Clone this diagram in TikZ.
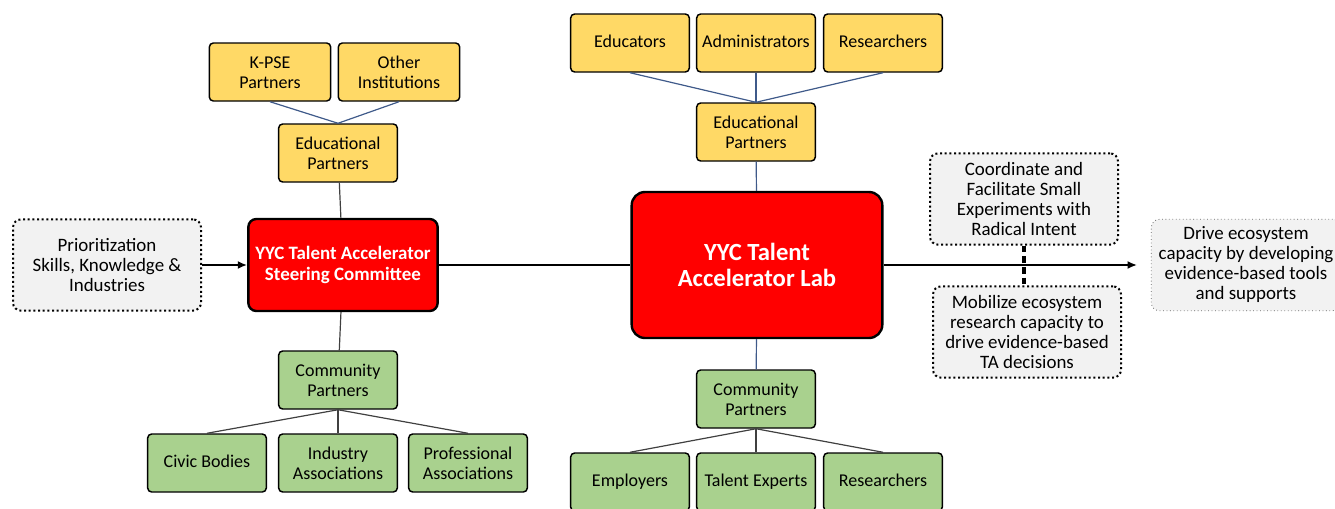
\documentclass[tikz,border=0pt]{standalone}
\usepackage{fontspec}
\setmainfont{Carlito}
\usetikzlibrary{arrows.meta}
\definecolor{eduyellow}{HTML}{FFD966}
\definecolor{comgreen}{HTML}{A9D18E}
\definecolor{notegray}{HTML}{F2F2F2}
\definecolor{linkblue}{HTML}{3F5A8A}
\tikzset{
  smallbox/.style={draw,rounded corners=3pt,line width=1.1pt,align=center,inner sep=1pt,
    minimum width=89pt,minimum height=43.5pt,font=\fontsize{13.5}{15}\selectfont},
  ybox/.style={smallbox,fill=eduyellow},
  gbox/.style={smallbox,fill=comgreen},
  redbox/.style={draw,fill=red,rounded corners=6pt,line width=1.8pt,align=center,text=white,
    minimum width=142pt,minimum height=69pt,font=\bfseries\fontsize{14.2}{15.5}\selectfont},
  notebox/.style={draw,dotted,line width=1.5pt,fill=notegray,rounded corners=6pt,align=center,
    minimum width=141pt,minimum height=68.5pt,inner sep=1pt,font=\fontsize{14.2}{15}\selectfont},
  bluelink/.style={draw=linkblue,line width=0.9pt},
  graylink/.style={draw=black!75,line width=0.9pt},
  mainline/.style={draw,line width=1.5pt}
}
\begin{document}
\begin{tikzpicture}[x=0.75pt,y=-0.75pt]
    \useasboundingbox (0,0) rectangle (1335,508);
    % steering committee side
    \node[redbox] (steer) at (343,265) {YYC Talent Accelerator\\Steering Committee};
    \node[notebox] (prio) at (107,265) {Prioritization\\Skills, Knowledge \&\\Industries};
    \node[ybox] (eduL) at (338,153) {Educational\\Partners};
    \foreach \n/\x/\t in {kpse/270/{K-PSE\\Partners},other/399/{Other\\Institutions}}{
      \node[ybox,minimum width=91pt] (\n) at (\x,72) {\strut\t};
      \draw[bluelink] (\n.south) -- (eduL.north);
    }
    \node[gbox] (comL) at (338,380) {Community\\Partners};
    \foreach \n/\x/\t in {civic/207/{Civic Bodies},indus/338/{Industry\\Associations},prof/468/{Professional\\Associations}}{
      \node[gbox] (\n) at (\x,463) {\strut\t};
      \draw[graylink] (comL.south) -- (\n.north);
    }
    \draw[graylink] (eduL) -- (steer);
    \draw[graylink] (steer) -- (comL);
    \draw[line width=1.5pt,-{Latex[length=7pt,width=6pt]}] (prio) -- (steer);
    % lab side
    \node[redbox,minimum width=188pt,minimum height=109.5pt,rounded corners=10pt,
      font=\bfseries\fontsize{18.5}{19.5}\selectfont] (lab) at (757,265) {YYC Talent\\Accelerator Lab};
    \node[ybox] (eduR) at (756,132) {Educational\\Partners};
    \foreach \n/\x/\t in {educ/630/Educators,admin/756/Administrators,resT/883/Researchers}{
      \node[ybox] (\n) at (\x,43) {\strut\t};
      \draw[bluelink] (\n.south) -- (eduR.north);
    }
    \node[gbox] (comR) at (756,399) {Community\\Partners};
    \foreach \n/\x/\t in {empl/630/Employers,talent/756/{Talent Experts},resB/883/Researchers}{
      \node[gbox] (\n) at (\x,482) {\strut\t};
      \draw[graylink] (comR.south) -- (\n.north);
    }
    \draw[bluelink] (eduR) -- (lab);
    \draw[bluelink] (lab) -- (comR);
    \draw[mainline] (steer) -- (lab);
    % outputs
    \node[notebox] (coord) at (1024,199) {Coordinate and\\Facilitate Small\\Experiments with\\Radical Intent};
    \node[notebox] (mobil) at (1027,332) {Mobilize ecosystem\\research capacity to\\drive evidence-based\\TA decisions};
    \node[notebox,line width=0.6pt,draw=black!60,minimum width=142pt] (drive) at (1246,265)
      {Drive ecosystem\\capacity by developing\\evidence-based tools\\and supports};
    \coordinate (tip) at (1137,265);
    \draw[mainline,-{Latex[length=7pt,width=6pt]}] (lab) -- (tip);
    \draw[line width=2.4pt,dash pattern=on 5pt off 3pt] (coord.south) -- (coord.south |- mobil.north);
\end{tikzpicture}
\end{document}
